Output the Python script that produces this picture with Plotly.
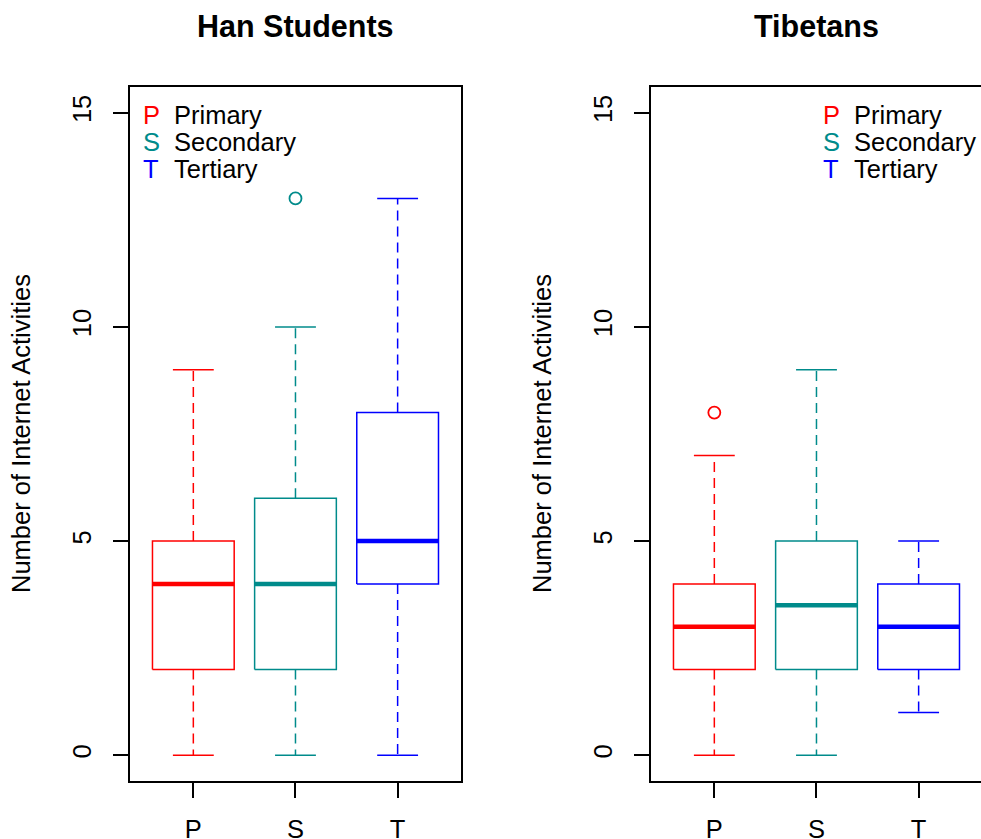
import plotly.graph_objects as go

# ---------------- data ----------------
groups = ["P", "S", "T"]
group_names = ["Primary", "Secondary", "Tertiary"]
colors = ["#FF0000", "#008B8B", "#0000FF"]

han_lower = [0, 0, 0]
han_q1 = [2, 2, 4]
han_median = [4, 4, 5]
han_q3 = [5, 6, 8]
han_upper = [9, 10, 13]
han_outliers = [[], [13], []]

tib_lower = [0, 0, 1]
tib_q1 = [2, 2, 2]
tib_median = [3, 3.5, 3]
tib_q3 = [4, 5, 4]
tib_upper = [7, 9, 5]
tib_outliers = [[8], [], []]

panel_titles = ["Han Students", "Tibetans"]
y_title = "Number of Internet Activities"
y_ticks = [0, 5, 10, 15]

# ---------------- figure ----------------
W, H = 981, 839
FONT = "Liberation Sans, Arial, Helvetica, sans-serif"
FS = 25.5
BOXW = 0.4   # half box width
CAPW = 0.2   # half cap width

fig = go.Figure()


def add_panel(xa, ya, lower, q1, med, q3, upper, outliers):
    for i, g in enumerate(groups):
        x = i + 1
        c = colors[i]
        # dashed whiskers
        fig.add_trace(go.Scatter(
            x=[x, x, None, x, x], y=[q3[i], upper[i], None, q1[i], lower[i]],
            mode="lines", line=dict(color=c, width=1.5, dash="10px,6px"),
            xaxis=xa, yaxis=ya, hoverinfo="skip"))
        # caps
        fig.add_trace(go.Scatter(
            x=[x - CAPW, x + CAPW, None, x - CAPW, x + CAPW],
            y=[upper[i], upper[i], None, lower[i], lower[i]],
            mode="lines", line=dict(color=c, width=1.5),
            xaxis=xa, yaxis=ya, hoverinfo="skip"))
        # box
        fig.add_trace(go.Scatter(
            x=[x - BOXW, x + BOXW, x + BOXW, x - BOXW, x - BOXW],
            y=[q1[i], q1[i], q3[i], q3[i], q1[i]],
            mode="lines", line=dict(color=c, width=1.5),
            xaxis=xa, yaxis=ya, hoverinfo="skip"))
        # median
        fig.add_trace(go.Scatter(
            x=[x - BOXW, x + BOXW], y=[med[i], med[i]],
            mode="lines", line=dict(color=c, width=4.5),
            xaxis=xa, yaxis=ya, hoverinfo="skip"))
        # outliers
        if outliers[i]:
            fig.add_trace(go.Scatter(
                x=[x] * len(outliers[i]), y=outliers[i], mode="markers",
                marker=dict(symbol="circle-open", size=12, color=c,
                            line=dict(width=1.8, color=c)),
                xaxis=xa, yaxis=ya, hoverinfo="skip"))


add_panel("x", "y", han_lower, han_q1, han_median, han_q3, han_upper, han_outliers)
add_panel("x2", "y2", tib_lower, tib_q1, tib_median, tib_q3, tib_upper, tib_outliers)

ydom = [(839 - 781) / H, (839 - 87) / H]
px_per_unit = 102.15
xr_left = [0.38, 0.38 + 331 / px_per_unit]
xr_right = [0.38, 0.38 + 330 / px_per_unit]

common_x = dict(tickvals=[1, 2, 3], ticktext=groups, ticks="outside", ticklen=15,
                tickwidth=1.5, tickcolor="black", showline=True, linecolor="black",
                linewidth=1.8, showgrid=False, zeroline=False,
                tickfont=dict(family=FONT, size=FS, color="black"),
                ticklabelstandoff=9)
common_y = dict(tickvals=y_ticks, ticks="outside", ticklen=15, tickwidth=1.5,
                tickcolor="black", showline=True, linecolor="black", linewidth=1.8,
                showgrid=False, zeroline=False, range=[-0.6, 15.6], domain=ydom,
                tickangle=-90, tickfont=dict(family=FONT, size=FS, color="black"),
                ticklabelstandoff=12)

fig.update_layout(
    width=W, height=H, autosize=False, margin=dict(l=0, r=0, t=0, b=0, autoexpand=False),
    paper_bgcolor="white", plot_bgcolor="white", showlegend=False,
    xaxis=dict(domain=[130 / W, 461 / W], range=xr_left, mirror=True, anchor="y", **common_x),
    yaxis=dict(anchor="x", mirror=True, **common_y),
    xaxis2=dict(domain=[651 / W, 1.0], range=xr_right, mirror=True, anchor="y2", **common_x),
    yaxis2=dict(anchor="x2", mirror=False, **common_y),
)

annotations = []
# titles
for cx, t in [((130 + 461) / 2, panel_titles[0]), ((651 + 982) / 2, panel_titles[1])]:
    annotations.append(dict(text="<b>" + t + "</b>", x=cx / W, y=1 - 26 / H,
                            xref="paper", yref="paper", xanchor="center", yanchor="middle",
                            showarrow=False, font=dict(family=FONT, size=30.5, color="black")))
# y-axis titles
for cx in [21, 542]:
    annotations.append(dict(text=y_title, x=cx / W, y=1 - 434 / H, textangle=-90,
                            xref="paper", yref="paper", xanchor="center", yanchor="middle",
                            showarrow=False, font=dict(family=FONT, size=FS, color="black")))
# legends
for letter_x, word_x in [(151, 172), (831, 852)]:
    for i, (g, nm) in enumerate(zip(groups, group_names)):
        yy = 1 - (115 + 27 * i) / H
        annotations.append(dict(text=g, x=letter_x / W, y=yy, xref="paper", yref="paper",
                                xanchor="center", yanchor="middle", showarrow=False,
                                font=dict(family=FONT, size=FS, color=colors[i])))
        annotations.append(dict(text=nm, x=word_x / W, y=yy, xref="paper", yref="paper",
                                xanchor="left", yanchor="middle", showarrow=False,
                                font=dict(family=FONT, size=FS, color="black")))
fig.update_layout(annotations=annotations)

fig.write_html("out.html",
               config={"displayModeBar": False, "responsive": False},
               post_script="document.body.style.margin='0px';")
